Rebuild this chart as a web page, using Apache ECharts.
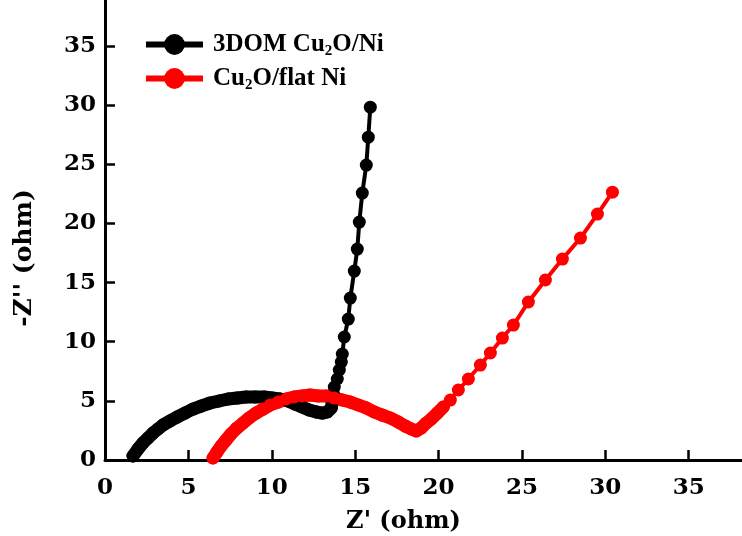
<!DOCTYPE html>
<html>
<head>
<meta charset="utf-8">
<script src="https://cdn.jsdelivr.net/npm/echarts@6/dist/echarts.min.js"></script>
<style>
html,body{margin:0;padding:0;background:#fff;}
#chart{width:742px;height:536px;}
</style>
</head>
<body>
<div id="chart"></div>
<script>
// ---- data ----
const seriesNames = ['3DOM Cu2O/Ni', 'Cu2O/flat Ni'];

const blackX = [1.68,1.98,2.28,2.58,2.88,3.18,3.48,3.90,4.32,4.80,5.28,5.76,6.30,6.84,7.38,7.92,8.46,9.00,9.54,10.02,10.50,10.98,11.40,11.82,12.24,12.67,13.03,13.33,13.57,
  13.63,13.69,13.75,13.93,14.05,14.17,14.23,14.35,14.59,14.71,14.95,15.13,15.25,15.43,15.67,15.79,15.91];
const blackY = [0.34,0.93,1.44,1.86,2.28,2.62,2.96,3.30,3.63,3.97,4.31,4.56,4.82,4.99,5.16,5.24,5.33,5.33,5.33,5.24,5.16,4.99,4.73,4.48,4.23,4.06,3.97,4.06,4.40,
  4.90,5.58,6.17,6.85,7.61,8.28,8.96,10.40,11.92,13.69,15.98,17.84,20.12,22.57,24.94,27.30,29.84];

const redX = [6.48,6.72,6.96,7.26,7.56,7.92,8.28,8.64,9.06,9.48,9.90,10.38,10.86,11.34,11.82,12.30,12.79,13.27,13.75,14.23,14.71,15.19,15.67,16.15,16.63,17.11,17.59,18.01,18.37,18.67,
  18.97,19.27,19.57,19.93,20.29,20.71,21.19,21.79,22.51,23.11,23.83,24.49,25.39,26.41,27.43,28.51,29.53,30.43];
const redY = [0.17,0.68,1.18,1.69,2.20,2.71,3.13,3.55,3.97,4.31,4.65,4.90,5.16,5.33,5.41,5.49,5.41,5.41,5.24,5.07,4.90,4.65,4.40,4.06,3.80,3.55,3.21,2.87,2.62,2.45,
  2.71,3.13,3.47,3.97,4.48,5.07,5.92,6.85,8.03,9.05,10.31,11.41,13.36,15.22,16.99,18.77,20.80,22.65];

const xTicks = [0,5,10,15,20,25,30,35];
const yTicks = [0,5,10,15,20,25,30,35];

// number of densely packed (overlapping) markers at the start of each curve
const blackDense = 31;
const redDense = 35;

const zip = (xs, ys) => xs.map((x, i) => [x, ys[i]]);
const blackData = zip(blackX, blackY);
const redData = zip(redX, redY);

const axisFont = 'DejaVu Serif';
const chart = echarts.init(document.getElementById('chart'), null, {renderer: 'canvas'});
chart.setOption({
  animation: false,
  backgroundColor: '#fff',
  grid: {left: 105, right: 0, top: 0, bottom: 76, containLabel: false, outerBoundsMode: 'none'},
  legend: {
    orient: 'vertical',
    left: 143, top: 32, padding: 0,
    itemWidth: 57, itemHeight: 26, itemGap: 7,
    data: seriesNames,
    lineStyle: {width: 6},
    formatter: function (name) {
      if (name === seriesNames[0]) return '{n|3DOM Cu}{s|2}{n|O/Ni}';
      return '{n|Cu}{s|2}{n|O/flat Ni}';
    },
    textStyle: {
      padding: [0, 0, 0, 5],
      rich: {
        n: {fontFamily: 'Liberation Serif', fontWeight: 'bold', fontSize: 25, color: '#000'},
        s: {fontFamily: 'Liberation Serif', fontWeight: 'bold', fontSize: 15, color: '#000', padding: [14, 0, 0, 0]}
      }
    }
  },
  xAxis: {
    type: 'value', min: 0, max: 38.2,
    name: "Z' (ohm)", nameLocation: 'middle', nameGap: 50,
    nameTextStyle: {fontFamily: axisFont, fontWeight: 'bold', fontSize: 24, color: '#000', padding: [0, 40, 0, 0]},
    axisLine: {show: true, onZero: false, lineStyle: {color: '#000', width: 3}},
    axisTick: {show: true, inside: true, length: 10, customValues: xTicks, lineStyle: {color: '#000', width: 2.5}},
    axisLabel: {show: true, customValues: xTicks, margin: 17, fontFamily: axisFont, fontWeight: 'bold', fontSize: 23, color: '#000'},
    splitLine: {show: false}
  },
  yAxis: {
    type: 'value', min: 0, max: 38.9,
    name: "-Z'' (ohm)", nameLocation: 'middle', nameGap: 68, nameRotate: 90,
    nameTextStyle: {fontFamily: axisFont, fontWeight: 'bold', fontSize: 25, color: '#000', padding: [0, 56, 0, 0]},
    axisLine: {show: true, onZero: false, lineStyle: {color: '#000', width: 3}},
    axisTick: {show: true, inside: true, length: 10, customValues: yTicks, lineStyle: {color: '#000', width: 2.5}},
    axisLabel: {show: true, customValues: yTicks, margin: 9, fontFamily: axisFont, fontWeight: 'bold', fontSize: 23, color: '#000'},
    splitLine: {show: false}
  },
  series: [
    {
      name: 'blackBand', type: 'line', data: blackData.slice(0, blackDense),
      symbol: 'none', clip: false, silent: true,
      color: '#000', lineStyle: {color: '#000', width: 13, cap: 'round', join: 'round'}
    },
    {
      name: seriesNames[0], type: 'line', data: blackData,
      symbol: 'circle', symbolSize: 13, showSymbol: true, clip: false,
      color: '#000', itemStyle: {color: '#000'}, lineStyle: {color: '#000', width: 4}
    },
    {
      name: 'redBand', type: 'line', data: redData.slice(0, redDense),
      symbol: 'none', clip: false, silent: true,
      color: '#ff0000', lineStyle: {color: '#ff0000', width: 13, cap: 'round', join: 'round'}
    },
    {
      name: seriesNames[1], type: 'line', data: redData,
      symbol: 'circle', symbolSize: 13, showSymbol: true, clip: false,
      color: '#ff0000', itemStyle: {color: '#ff0000'}, lineStyle: {color: '#ff0000', width: 4}
    }
  ]
});
</script>
</body>
</html>
